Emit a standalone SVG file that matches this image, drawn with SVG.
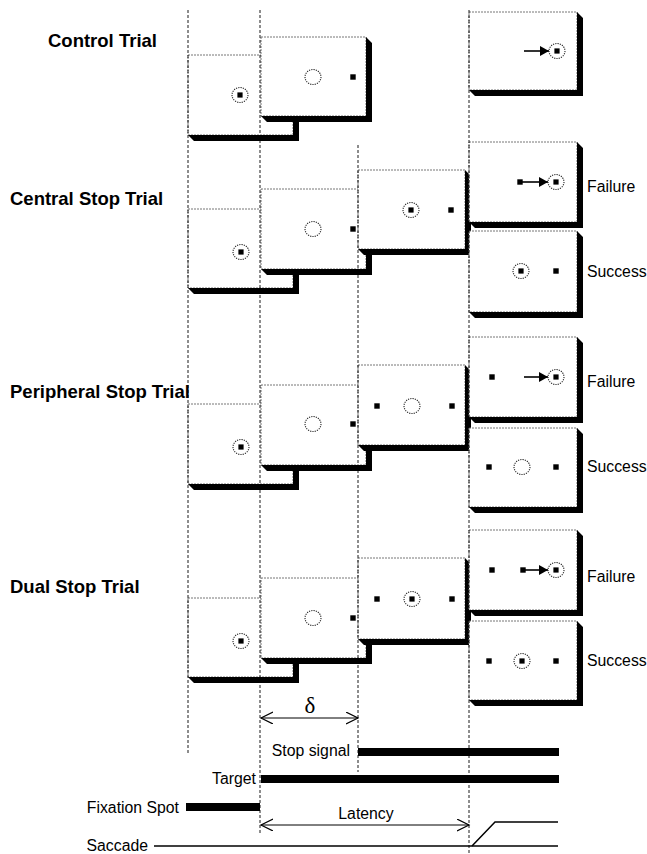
<svg xmlns="http://www.w3.org/2000/svg" xmlns:xlink="http://www.w3.org/1999/xlink" width="647" height="854" viewBox="0 0 647 854">
<style>
.box{fill:#fff;stroke:#777;stroke-width:1;stroke-dasharray:2 1}
.sh{fill:#000}
.ring{fill:none;stroke:#222;stroke-width:1.1;stroke-dasharray:1.2 1.1}
.vl{stroke:#000;stroke-width:0.9;stroke-dasharray:3 2;fill:none}
.lbl{font-family:"Liberation Sans",Arial,sans-serif;font-weight:bold;font-size:18.5px;fill:#000}
.txt{font-family:"Liberation Sans",Arial,sans-serif;font-size:15.8px;fill:#000}
.sac{stroke:#000;stroke-width:1.5;fill:none}
.mv{stroke:#000;stroke-width:1.6;marker-end:url(#ah)}
.dim{stroke:#000;stroke-width:1;marker-start:url(#oa);marker-end:url(#oa)}
</style>
<defs>
<marker id="ah" markerUnits="userSpaceOnUse" markerWidth="10" markerHeight="10" refX="9" refY="5" orient="auto"><path d="M0,0 L9,5 L0,10 Z" fill="#000"/></marker>
<marker id="oa" markerUnits="userSpaceOnUse" markerWidth="14" markerHeight="14" refX="12" refY="6" orient="auto-start-reverse"><path d="M0,0 L12,6 L0,12" fill="none" stroke="#000" stroke-width="1.2"/></marker>
<ellipse id="ring" rx="8" ry="7.5" class="ring"/>
<g id="ringdot"><ellipse rx="8" ry="7.5" class="ring"/><rect x="-2.6" y="-2.6" width="5.2" height="5.2" fill="#000"/></g>
<rect id="sq" x="-2.7" y="-2.7" width="5.4" height="5.4" fill="#000"/>
</defs>

<g id="labels">
<text class="lbl" x="48" y="47">Control Trial</text>
<text class="lbl" x="10" y="205">Central Stop Trial</text>
<text class="lbl" x="10" y="398">Peripheral Stop Trial</text>
<text class="lbl" x="10" y="593">Dual Stop Trial</text>
</g>

<!-- Control trial -->
<g id="control-fix">
<rect class="box" x="188" y="55" width="105" height="80"/>
<polygon class="sh" points="188,135 194,141 299,141 299,61 293,55 293,135"/>
<use href="#ringdot" x="240" y="95"/>
</g>
<g id="control-target">
<rect class="box" x="261" y="37" width="105" height="79"/>
<polygon class="sh" points="261,116 267,122 372,122 372,43 366,37 366,116"/>
<use href="#ring" x="313" y="77"/>
<use href="#sq" x="353" y="77"/>
</g>
<g id="control-result">
<rect class="box" x="469" y="12" width="108" height="78"/>
<polygon class="sh" points="469,90 475,96 583,96 583,18 577,12 577,90"/>
<line class="mv" x1="524" y1="51" x2="549" y2="51"/>
<use href="#ringdot" x="557" y="51"/>
</g>

<!-- Central stop trial -->
<g id="central-fix">
<rect class="box" x="188" y="209" width="105" height="79"/>
<polygon class="sh" points="188,288 194,294 299,294 299,215 293,209 293,288"/>
<use href="#ringdot" x="241" y="252"/>
</g>
<g id="central-target">
<rect class="box" x="261" y="189" width="105" height="80"/>
<polygon class="sh" points="261,269 267,275 372,275 372,195 366,189 366,269"/>
<use href="#ring" x="313" y="229"/>
<use href="#sq" x="353" y="229"/>
</g>
<g id="central-stop">
<rect class="box" x="358" y="170" width="107" height="79"/>
<polygon class="sh" points="358,249 364,255 471,255 471,176 465,170 465,249"/>
<use href="#ringdot" x="411" y="210"/>
<use href="#sq" x="451" y="210"/>
</g>
<g id="central-failure">
<rect class="box" x="469" y="142" width="108" height="80"/>
<polygon class="sh" points="469,222 475,228 583,228 583,148 577,142 577,222"/>
<use href="#sq" x="520" y="182"/>
<line class="mv" x1="522" y1="182" x2="548" y2="182"/>
<use href="#ringdot" x="556" y="182"/>
<text class="txt" x="587" y="192">Failure</text>
</g>
<g id="central-success">
<rect class="box" x="469" y="231" width="108" height="81"/>
<polygon class="sh" points="469,312 475,318 583,318 583,237 577,231 577,312"/>
<use href="#ringdot" x="521" y="271"/>
<use href="#sq" x="556" y="271"/>
<text class="txt" x="587" y="277">Success</text>
</g>

<!-- Peripheral stop trial -->
<g id="peripheral-fix">
<rect class="box" x="188" y="404" width="105" height="80"/>
<polygon class="sh" points="188,484 194,490 299,490 299,410 293,404 293,484"/>
<use href="#ringdot" x="241" y="447"/>
</g>
<g id="peripheral-target">
<rect class="box" x="261" y="385" width="105" height="80"/>
<polygon class="sh" points="261,465 267,471 372,471 372,391 366,385 366,465"/>
<use href="#ring" x="313" y="424"/>
<use href="#sq" x="353" y="424"/>
</g>
<g id="peripheral-stop">
<rect class="box" x="358" y="365" width="107" height="80"/>
<polygon class="sh" points="358,445 364,451 471,451 471,371 465,365 465,445"/>
<use href="#sq" x="377" y="406"/>
<use href="#ring" x="412" y="406"/>
<use href="#sq" x="452" y="406"/>
</g>
<g id="peripheral-failure">
<rect class="box" x="469" y="337" width="108" height="80"/>
<polygon class="sh" points="469,417 475,423 583,423 583,343 577,337 577,417"/>
<use href="#sq" x="492" y="377"/>
<line class="mv" x1="524" y1="377" x2="548" y2="377"/>
<use href="#ringdot" x="556" y="377"/>
<text class="txt" x="587" y="387">Failure</text>
</g>
<g id="peripheral-success">
<rect class="box" x="469" y="428" width="108" height="79"/>
<polygon class="sh" points="469,507 475,513 583,513 583,434 577,428 577,507"/>
<use href="#sq" x="489" y="467"/>
<use href="#ring" x="522" y="467"/>
<use href="#sq" x="556" y="467"/>
<text class="txt" x="587" y="472">Success</text>
</g>

<!-- Dual stop trial -->
<g id="dual-fix">
<rect class="box" x="188" y="598" width="105" height="79"/>
<polygon class="sh" points="188,677 194,683 299,683 299,604 293,598 293,677"/>
<use href="#ringdot" x="241" y="641"/>
</g>
<g id="dual-target">
<rect class="box" x="261" y="578" width="105" height="80"/>
<polygon class="sh" points="261,658 267,664 372,664 372,584 366,578 366,658"/>
<use href="#ring" x="313" y="618"/>
<use href="#sq" x="353" y="618"/>
</g>
<g id="dual-stop">
<rect class="box" x="358" y="558" width="107" height="81"/>
<polygon class="sh" points="358,639 364,645 471,645 471,564 465,558 465,639"/>
<use href="#sq" x="377" y="599"/>
<use href="#ringdot" x="412" y="599"/>
<use href="#sq" x="452" y="599"/>
</g>
<g id="dual-failure">
<rect class="box" x="469" y="530" width="108" height="80"/>
<polygon class="sh" points="469,610 475,616 583,616 583,536 577,530 577,610"/>
<use href="#sq" x="492" y="570"/>
<use href="#sq" x="523" y="570"/>
<line class="mv" x1="525" y1="570" x2="548" y2="570"/>
<use href="#ringdot" x="556" y="570"/>
<text class="txt" x="587" y="582">Failure</text>
</g>
<g id="dual-success">
<rect class="box" x="469" y="621" width="108" height="79"/>
<polygon class="sh" points="469,700 475,706 583,706 583,627 577,621 577,700"/>
<use href="#sq" x="489" y="661"/>
<use href="#ringdot" x="522" y="661"/>
<use href="#sq" x="556" y="661"/>
<text class="txt" x="587" y="666">Success</text>
</g>

<!-- Timeline -->
<g id="timeline">
<text x="310" y="713" font-family="'Liberation Serif','Times New Roman',serif" font-size="23" text-anchor="middle">δ</text>
<text class="txt" x="350" y="756" text-anchor="end">Stop signal</text>
<rect x="358" y="748" width="201" height="8" fill="#000"/>
<text class="txt" x="256" y="784" text-anchor="end">Target</text>
<rect x="261" y="775" width="298" height="8" fill="#000"/>
<text class="txt" x="179" y="813" text-anchor="end">Fixation Spot</text>
<rect x="186" y="803" width="74" height="8" fill="#000"/>
<text class="txt" x="366" y="819" text-anchor="middle">Latency</text>
<text class="txt" x="148" y="851" text-anchor="end">Saccade</text>
</g>

<g id="connectors">
<line class="vl" x1="188" y1="10" x2="188" y2="755"/>
<line class="vl" x1="260" y1="10" x2="260" y2="835"/>
<line class="vl" x1="358" y1="145" x2="358" y2="772"/>
<line class="vl" x1="469" y1="10" x2="469" y2="854"/>
<line class="dim" x1="261" y1="718" x2="358" y2="718"/>
<line class="dim" x1="261" y1="825" x2="469" y2="825"/>
<line class="sac" x1="154" y1="846" x2="558" y2="846"/>
<polyline class="sac" points="472,846 495,822 558,822"/>
</g>
</svg>
